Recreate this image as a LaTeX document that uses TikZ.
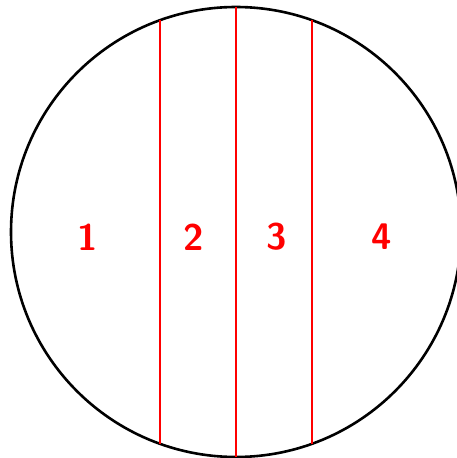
\documentclass[tikz,border=0pt]{standalone}
\begin{document}
\begin{tikzpicture}[x=1pt,y=1pt,
  rim/.style={line width=2.6pt,black},
  cut/.style={line width=2.4pt,red},
  lab/.style={text=red,font=\fontsize{37}{42}\selectfont\sffamily\bfseries}]
\useasboundingbox (0,0) rectangle (457,458);
\clip (0,0) rectangle (457,458);
\coordinate (c) at (236,226);
\draw[rim] (c) circle (225);
\coordinate (t1) at (160,437.78);
\coordinate (b1) at (160,14.22);
\coordinate (t2) at (236,451);
\coordinate (b2) at (236,1);
\coordinate (t3) at (312,437.78);
\coordinate (b3) at (312,14.22);
\draw[cut] (t1) -- (b1);
\draw[cut] (t2) -- (b2);
\draw[cut] (t3) -- (b3);
\node[lab] (n1) at (88,221) {1};
\node[lab] (n2) at (194,221) {2};
\node[lab] (n3) at (277,221) {3};
\node[lab] (n4) at (382,221) {4};
\end{tikzpicture}
\end{document}
